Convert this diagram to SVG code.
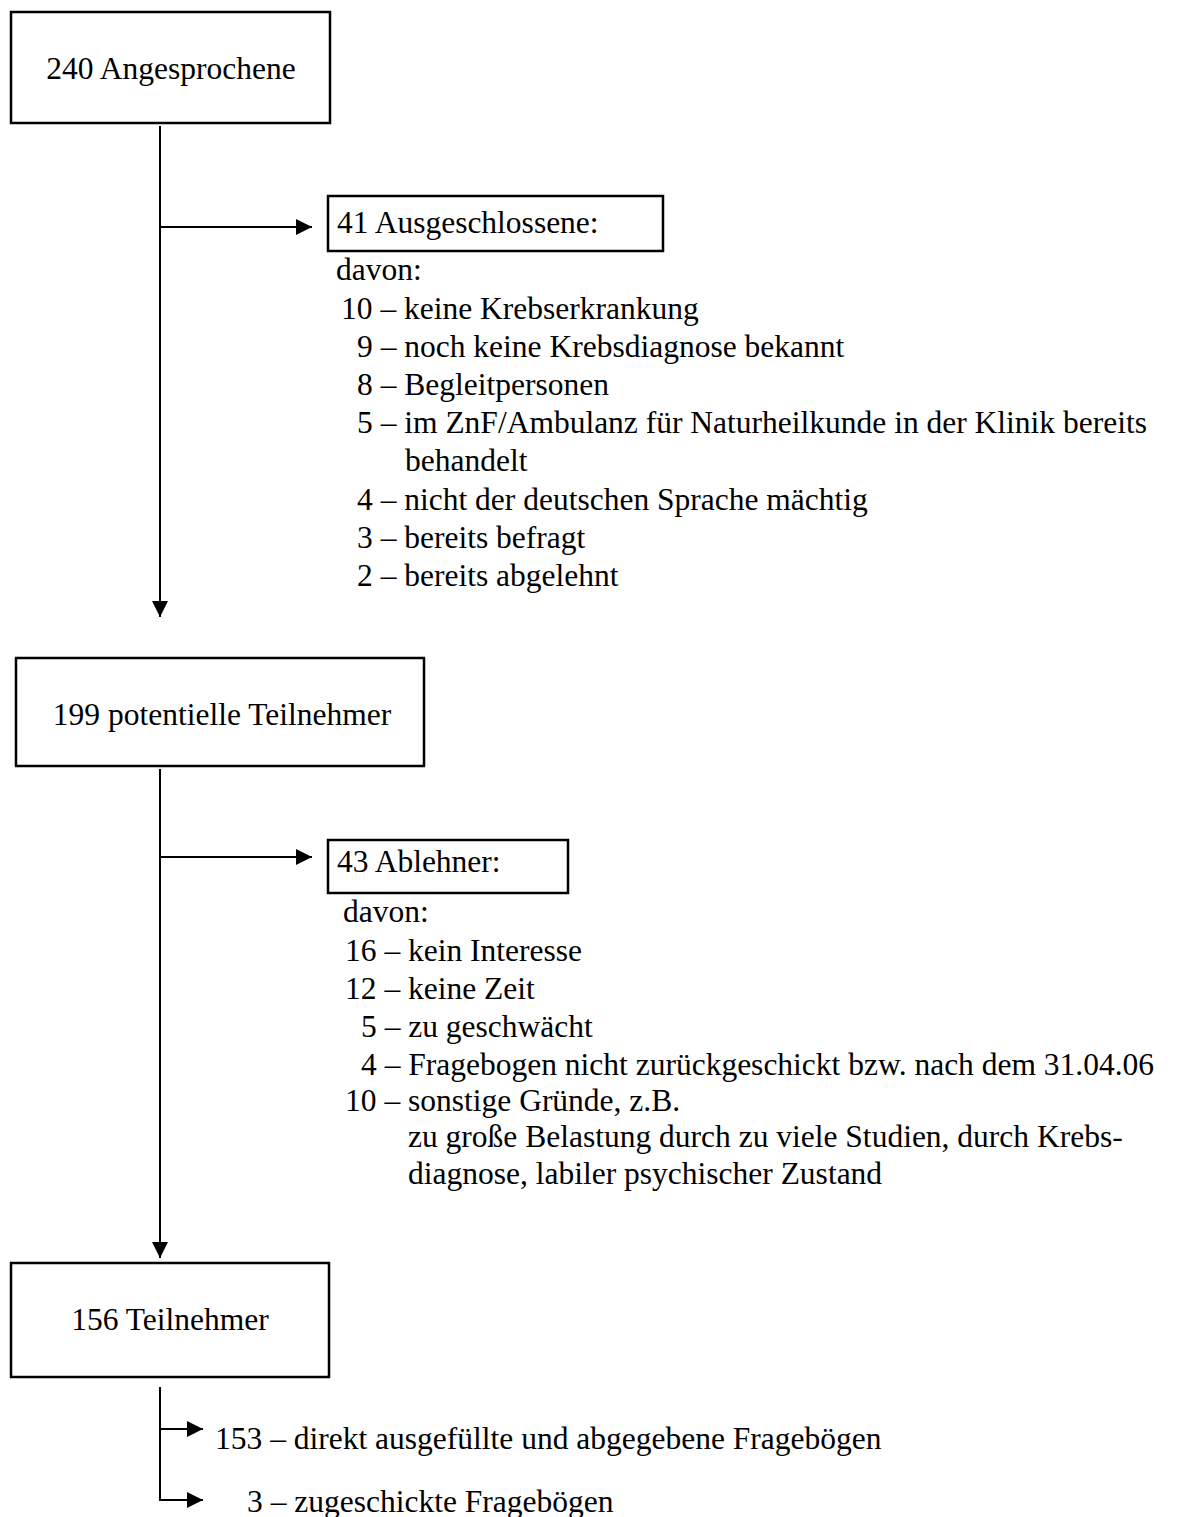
<svg xmlns="http://www.w3.org/2000/svg" width="1178" height="1517" viewBox="0 0 1178 1517">
<defs>
<style>
text{font-family:"Liberation Serif","Times New Roman",serif;font-size:31.5px;fill:#000}
.box{fill:#fff;stroke:#000;stroke-width:2.5}
.ln{fill:none;stroke:#000;stroke-width:2}
.c{text-anchor:middle}
</style>
<marker id="ah" viewBox="0 0 16 16" refX="16" refY="8" markerWidth="16" markerHeight="16" markerUnits="userSpaceOnUse" orient="auto">
<path d="M0,0 L16,8 L0,16 Z" fill="#000"/>
</marker>
</defs>
<rect width="1178" height="1517" fill="#fff"/>
<g id="connectors">
<line class="ln" x1="160" y1="126" x2="160" y2="617" marker-end="url(#ah)"/>
<line class="ln" x1="160" y1="227" x2="312" y2="227" marker-end="url(#ah)"/>
<line class="ln" x1="160" y1="769" x2="160" y2="1258" marker-end="url(#ah)"/>
<line class="ln" x1="160" y1="857" x2="312" y2="857" marker-end="url(#ah)"/>
<line class="ln" x1="160" y1="1387" x2="160" y2="1501"/>
<line class="ln" x1="160" y1="1429" x2="203" y2="1429" marker-end="url(#ah)"/>
<line class="ln" x1="159" y1="1500" x2="203" y2="1500" marker-end="url(#ah)"/>
</g>
<g id="n240">
<rect class="box" x="11" y="12" width="319" height="111"/>
<text class="c" x="171" y="79">240 Angesprochene</text>
</g>
<g id="n41">
<rect class="box" x="328" y="196" width="335" height="55"/>
<text x="337" y="233">41 Ausgeschlossene:</text>
</g>
<g id="list41">
<text x="336" y="280">davon:</text>
<text x="341" y="319">10 – keine Krebserkrankung</text>
<text x="357" y="357">9 – noch keine Krebsdiagnose bekannt</text>
<text x="357" y="395">8 – Begleitpersonen</text>
<text x="357" y="433">5 – im ZnF/Ambulanz für Naturheilkunde in der Klinik bereits</text>
<text x="405" y="471">behandelt</text>
<text x="357" y="510">4 – nicht der deutschen Sprache mächtig</text>
<text x="357" y="548">3 – bereits befragt</text>
<text x="357" y="586">2 – bereits abgelehnt</text>
</g>
<g id="n199">
<rect class="box" x="16" y="658" width="408" height="108"/>
<text class="c" x="222" y="725">199 potentielle Teilnehmer</text>
</g>
<g id="n43">
<rect class="box" x="328" y="840" width="240" height="53"/>
<text x="337" y="872">43 Ablehner:</text>
</g>
<g id="list43">
<text x="343" y="922">davon:</text>
<text x="345" y="961">16 – kein Interesse</text>
<text x="345" y="999">12 – keine Zeit</text>
<text x="361" y="1037">5 – zu geschwächt</text>
<text x="361" y="1075">4 – Fragebogen nicht zurückgeschickt bzw. nach dem 31.04.06</text>
<text x="345" y="1111">10 – sonstige Gründe, z.B.</text>
<text x="408" y="1147">zu große Belastung durch zu viele Studien, durch Krebs-</text>
<text x="408" y="1184">diagnose, labiler psychischer Zustand</text>
</g>
<g id="n156">
<rect class="box" x="11" y="1263" width="318" height="114"/>
<text class="c" x="170" y="1330">156 Teilnehmer</text>
</g>
<g id="out">
<text x="215" y="1449">153 – direkt ausgefüllte und abgegebene Fragebögen</text>
<text x="247" y="1512">3 – zugeschickte Fragebögen</text>
</g>
</svg>
